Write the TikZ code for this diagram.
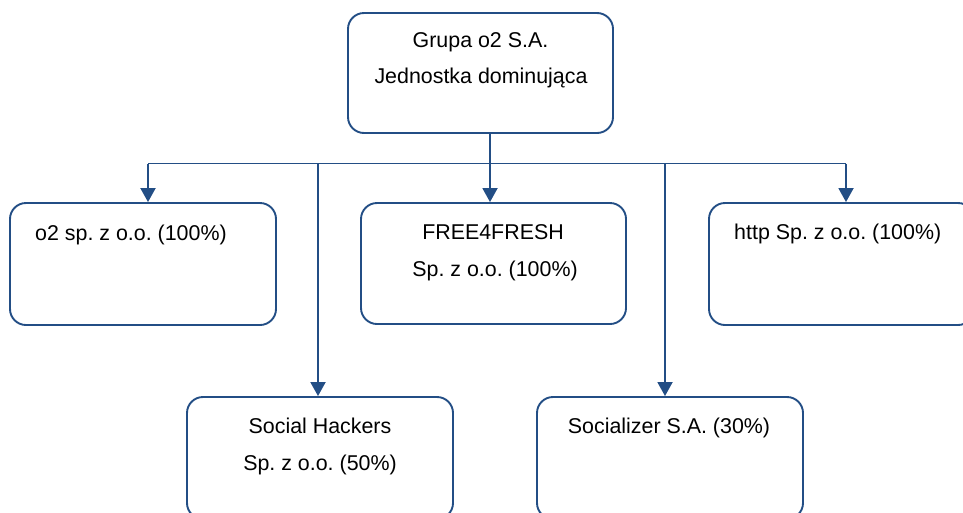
\documentclass[tikz,border=0pt]{standalone}
\usepackage{fontspec}
\setmainfont{Liberation Sans}
\usetikzlibrary{arrows.meta}
\definecolor{lineblue}{HTML}{234E85}
\frenchspacing
\tikzset{
  orgbox/.style={draw=lineblue, line width=1.9pt, rounded corners=16pt, rectangle, minimum width=#1, inner sep=0pt},
  orgbox/.default=265pt,
  txt/.style={inner sep=0pt, font=\fontsize{21.4}{36}\selectfont, text=black},
  conn/.style={draw=lineblue, line width=1.9pt},
  arr/.style={conn, -{Triangle[width=15pt,length=14pt]}}
}
\begin{document}
\begin{tikzpicture}[x=1pt,y=-1pt]
\useasboundingbox (0,0) rectangle (963,512);
% boxes
\node[orgbox, minimum height=120pt] (top) at (480.5,73) {};
\node[orgbox=266pt, minimum height=122pt] (o2) at (143,264) {};
\node[orgbox, minimum height=121pt] (free) at (493.5,263.5) {};
\node[orgbox, minimum height=122pt] (http) at (841.5,264) {};
\node[orgbox=266pt, minimum height=122pt] (sh) at (320,458) {};
\node[orgbox=266pt, minimum height=122pt] (soc) at (670,458) {};
% texts
\node[txt, anchor=base] (t1) at (480.5,47) {Grupa o2 S.A.};
\node[txt, anchor=base] (t2) at (481,83) {Jednostka dominująca};
\node[txt, anchor=base west] (t3) at (35,240) {o2 sp. z o.o. (100\%)};
\node[txt, anchor=base] (t4) at (493,239) {FREE4FRESH};
\node[txt, anchor=base] (t5) at (495,276) {Sp. z o.o. (100\%)};
\node[txt, anchor=base west] (t6) at (734,239) {http Sp. z o.o. (100\%)};
\node[txt, anchor=base] (t7) at (320,433) {Social Hackers};
\node[txt, anchor=base] (t8) at (320,470) {Sp. z o.o. (50\%)};
\node[txt, anchor=base] (t9) at (669,433) {Socializer S.A. (30\%)};
% connectors
\coordinate (bus) at (490,163.5);
\coordinate (j1) at (148,163.5);
\coordinate (j2) at (318,163.5);
\coordinate (j3) at (665,163.5);
\coordinate (j4) at (846,163.5);
\draw[conn] (bus |- top.south) -- (bus);
\draw[conn] (j1) -- (j4);
\draw[arr] (j1) -- (j1 |- o2.north);
\draw[arr] (bus) -- (bus |- free.north);
\draw[arr] (j4) -- (j4 |- http.north);
\draw[arr] (j2) -- (j2 |- sh.north);
\draw[arr] (j3) -- (j3 |- soc.north);
\end{tikzpicture}
\end{document}
